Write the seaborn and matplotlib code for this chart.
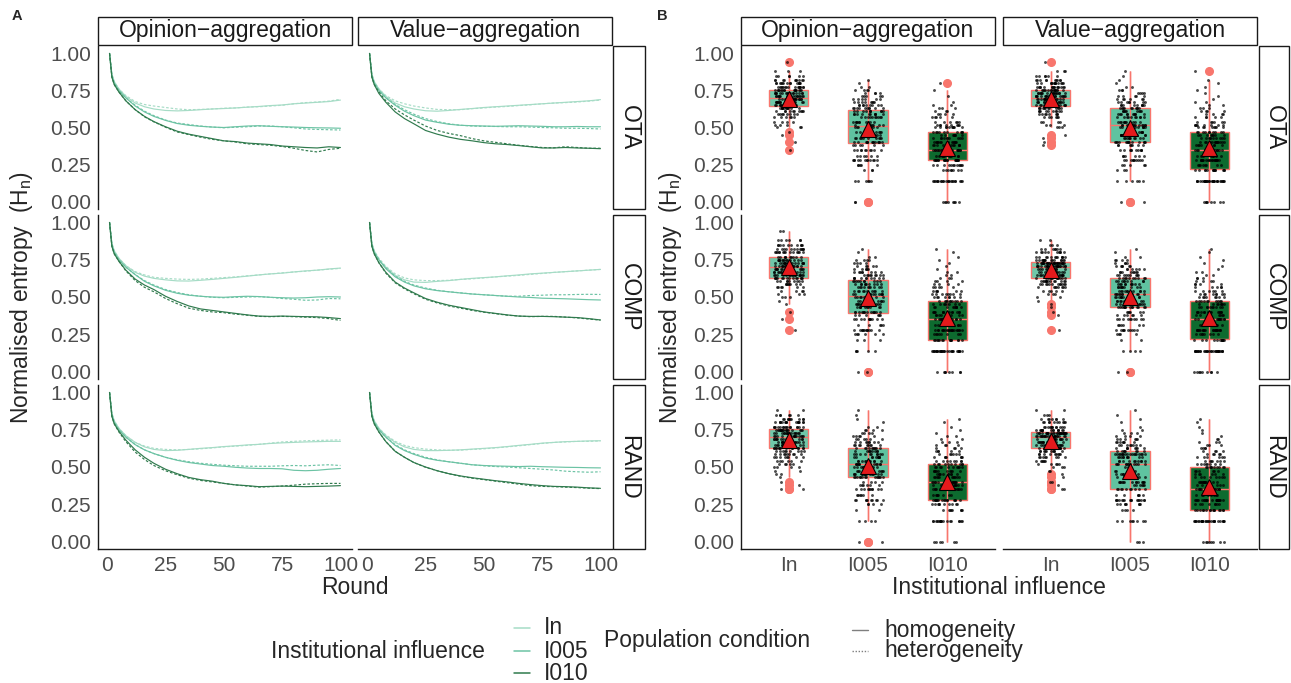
import numpy as np
import pandas as pd
import matplotlib
matplotlib.use("Agg")
import matplotlib.pyplot as plt
import seaborn as sns
from matplotlib.patches import Rectangle
from matplotlib.lines import Line2D

# ---------------- DATA ----------------
influences = ["In", "I005", "I010"]
conditions = ["homogeneity", "heterogeneity"]
distributions = ["OTA", "COMP", "RAND"]
aggregations = ["Opinion\u2212aggregation", "Value\u2212aggregation"]

ROUNDS = [1, 2, 3, 5, 8, 12, 16, 20, 25, 30, 35, 40, 45, 50, 55, 60, 65, 70, 75, 80, 85, 90, 95, 100]

ota_opinion = {
    "In_hom":   [1.00,0.86,0.81,0.76,0.71,0.665,0.64,0.625,0.615,0.612,0.615,0.62,0.625,0.628,0.632,0.637,0.642,0.648,0.652,0.66,0.665,0.67,0.675,0.685],
    "In_het":   [1.00,0.86,0.81,0.76,0.715,0.675,0.655,0.645,0.635,0.625,0.62,0.622,0.625,0.63,0.632,0.638,0.64,0.645,0.65,0.66,0.668,0.672,0.678,0.69],
    "I005_hom": [1.00,0.85,0.80,0.75,0.70,0.645,0.605,0.575,0.548,0.527,0.515,0.508,0.503,0.50,0.505,0.51,0.512,0.508,0.505,0.503,0.50,0.498,0.497,0.495],
    "I005_het": [1.00,0.85,0.80,0.75,0.70,0.65,0.61,0.58,0.55,0.53,0.52,0.51,0.503,0.498,0.502,0.505,0.51,0.51,0.505,0.498,0.49,0.487,0.485,0.483],
    "I010_hom": [1.00,0.84,0.79,0.74,0.68,0.62,0.575,0.54,0.505,0.475,0.455,0.44,0.425,0.41,0.405,0.395,0.39,0.385,0.375,0.37,0.365,0.362,0.37,0.365],
    "I010_het": [1.00,0.84,0.79,0.74,0.68,0.62,0.572,0.538,0.502,0.47,0.452,0.435,0.42,0.41,0.402,0.39,0.385,0.38,0.372,0.36,0.345,0.335,0.352,0.36],
}
ota_value = {
    "In_hom":   [1.00,0.86,0.81,0.76,0.71,0.665,0.64,0.625,0.613,0.61,0.615,0.622,0.628,0.635,0.64,0.645,0.65,0.655,0.66,0.665,0.67,0.675,0.68,0.688],
    "In_het":   [1.00,0.86,0.81,0.76,0.715,0.68,0.66,0.645,0.632,0.622,0.62,0.62,0.627,0.632,0.638,0.642,0.648,0.653,0.66,0.665,0.668,0.672,0.678,0.685],
    "I005_hom": [1.00,0.85,0.80,0.75,0.70,0.65,0.61,0.58,0.55,0.535,0.522,0.515,0.512,0.51,0.508,0.51,0.512,0.51,0.508,0.505,0.505,0.507,0.505,0.505],
    "I005_het": [1.00,0.85,0.80,0.75,0.70,0.655,0.62,0.59,0.56,0.54,0.525,0.515,0.51,0.508,0.507,0.505,0.505,0.503,0.50,0.498,0.495,0.495,0.493,0.49],
    "I010_hom": [1.00,0.84,0.79,0.73,0.67,0.605,0.56,0.525,0.48,0.455,0.435,0.42,0.41,0.398,0.39,0.385,0.378,0.37,0.362,0.362,0.365,0.362,0.36,0.357],
    "I010_het": [1.00,0.84,0.79,0.74,0.68,0.625,0.585,0.55,0.51,0.48,0.46,0.445,0.425,0.41,0.40,0.39,0.38,0.372,0.365,0.363,0.37,0.365,0.36,0.36],
}
comp_opinion = {
    "In_hom":   [1.00,0.86,0.81,0.76,0.71,0.665,0.64,0.625,0.615,0.608,0.607,0.612,0.618,0.625,0.632,0.64,0.648,0.655,0.66,0.668,0.675,0.68,0.688,0.694],
    "In_het":   [1.00,0.86,0.81,0.76,0.71,0.67,0.648,0.632,0.625,0.62,0.618,0.62,0.625,0.63,0.635,0.642,0.648,0.655,0.662,0.668,0.673,0.68,0.686,0.692],
    "I005_hom": [1.00,0.85,0.80,0.75,0.70,0.65,0.605,0.575,0.545,0.525,0.512,0.505,0.50,0.498,0.502,0.505,0.503,0.498,0.495,0.493,0.495,0.50,0.502,0.50],
    "I005_het": [1.00,0.85,0.80,0.75,0.70,0.65,0.61,0.58,0.55,0.53,0.515,0.505,0.498,0.495,0.498,0.50,0.502,0.498,0.49,0.485,0.478,0.48,0.49,0.488],
    "I010_hom": [1.00,0.84,0.79,0.74,0.68,0.62,0.58,0.55,0.505,0.47,0.44,0.42,0.41,0.40,0.39,0.38,0.372,0.37,0.372,0.37,0.368,0.367,0.362,0.355],
    "I010_het": [1.00,0.84,0.79,0.74,0.675,0.61,0.565,0.535,0.49,0.455,0.425,0.41,0.40,0.395,0.385,0.378,0.37,0.368,0.37,0.368,0.365,0.362,0.355,0.343],
}
comp_value = {
    "In_hom":   [1.00,0.86,0.81,0.75,0.70,0.645,0.615,0.60,0.598,0.605,0.61,0.618,0.625,0.63,0.635,0.642,0.648,0.655,0.66,0.665,0.67,0.675,0.68,0.685],
    "In_het":   [1.00,0.86,0.81,0.76,0.705,0.655,0.628,0.615,0.61,0.61,0.612,0.618,0.622,0.628,0.635,0.64,0.645,0.652,0.658,0.665,0.67,0.675,0.68,0.685],
    "I005_hom": [1.00,0.85,0.80,0.75,0.69,0.635,0.60,0.575,0.555,0.543,0.535,0.527,0.52,0.515,0.51,0.505,0.50,0.497,0.492,0.49,0.488,0.485,0.482,0.48],
    "I005_het": [1.00,0.85,0.80,0.75,0.695,0.64,0.605,0.58,0.56,0.545,0.535,0.528,0.52,0.515,0.51,0.505,0.505,0.51,0.512,0.515,0.515,0.517,0.518,0.517],
    "I010_hom": [1.00,0.84,0.79,0.73,0.665,0.60,0.56,0.528,0.49,0.465,0.445,0.43,0.415,0.40,0.39,0.38,0.372,0.37,0.37,0.368,0.365,0.362,0.355,0.346],
    "I010_het": [1.00,0.84,0.79,0.73,0.66,0.595,0.555,0.522,0.485,0.46,0.44,0.425,0.41,0.398,0.388,0.378,0.372,0.368,0.37,0.37,0.365,0.36,0.352,0.345],
}
rand_opinion = {
    "In_hom":   [1.00,0.86,0.81,0.76,0.71,0.665,0.635,0.618,0.61,0.612,0.618,0.625,0.63,0.637,0.642,0.648,0.652,0.658,0.662,0.665,0.668,0.67,0.672,0.672],
    "In_het":   [1.00,0.86,0.81,0.76,0.71,0.665,0.64,0.625,0.618,0.615,0.618,0.622,0.628,0.635,0.64,0.645,0.652,0.66,0.668,0.672,0.676,0.678,0.68,0.682],
    "I005_hom": [1.00,0.85,0.80,0.75,0.70,0.65,0.615,0.59,0.565,0.545,0.53,0.52,0.51,0.505,0.498,0.493,0.49,0.49,0.488,0.478,0.475,0.478,0.485,0.49],
    "I005_het": [1.00,0.85,0.80,0.75,0.70,0.65,0.615,0.59,0.565,0.548,0.535,0.525,0.518,0.512,0.508,0.505,0.505,0.505,0.508,0.51,0.508,0.512,0.515,0.51],
    "I010_hom": [1.00,0.84,0.79,0.74,0.68,0.615,0.565,0.525,0.485,0.455,0.43,0.415,0.405,0.39,0.38,0.375,0.368,0.37,0.372,0.37,0.368,0.37,0.372,0.375],
    "I010_het": [1.00,0.84,0.79,0.735,0.67,0.60,0.55,0.51,0.475,0.448,0.425,0.41,0.40,0.39,0.38,0.372,0.365,0.368,0.372,0.378,0.385,0.388,0.39,0.39],
}
rand_value = {
    "In_hom":   [1.00,0.86,0.81,0.76,0.71,0.665,0.635,0.618,0.61,0.61,0.612,0.615,0.62,0.625,0.63,0.637,0.645,0.652,0.66,0.665,0.67,0.672,0.675,0.676],
    "In_het":   [1.00,0.86,0.81,0.76,0.715,0.672,0.645,0.63,0.62,0.615,0.612,0.613,0.618,0.622,0.628,0.635,0.642,0.65,0.658,0.665,0.668,0.672,0.672,0.675],
    "I005_hom": [1.00,0.85,0.80,0.75,0.70,0.645,0.61,0.585,0.56,0.545,0.535,0.525,0.515,0.51,0.507,0.505,0.503,0.505,0.502,0.50,0.498,0.497,0.495,0.494],
    "I005_het": [1.00,0.85,0.80,0.75,0.70,0.65,0.615,0.59,0.565,0.548,0.535,0.525,0.515,0.508,0.503,0.50,0.495,0.49,0.485,0.48,0.472,0.468,0.465,0.468],
    "I010_hom": [1.00,0.84,0.79,0.735,0.67,0.605,0.565,0.53,0.50,0.475,0.455,0.44,0.428,0.418,0.408,0.40,0.39,0.382,0.375,0.37,0.368,0.365,0.36,0.357],
    "I010_het": [1.00,0.84,0.79,0.735,0.67,0.605,0.565,0.53,0.498,0.475,0.455,0.438,0.425,0.415,0.405,0.395,0.385,0.375,0.37,0.368,0.365,0.362,0.358,0.355],
}

# Panel B: discrete entropy levels and how many runs fall on each level
LEVELS = [0.00, 0.14, 0.21, 0.25, 0.28, 0.31, 0.35, 0.38, 0.40, 0.43, 0.45, 0.47, 0.50, 0.52, 0.54, 0.57,
          0.59, 0.61, 0.63, 0.65, 0.67, 0.69, 0.71, 0.73, 0.75, 0.77, 0.80, 0.82, 0.85, 0.88, 0.94]

counts_ota_opinion = {
    "In":   [0,0,0,0,0,0,1,0,1,0,1,1,3,3,4,6,8,10,12,18,16,16,18,16,16,16,14,10,6,3,1],
    "I005": [2,6,3,5,12,6,10,6,14,10,10,8,8,10,10,10,10,10,10,9,8,6,5,4,4,2,1,1,0,0,0],
    "I010": [8,22,8,12,20,10,24,10,14,10,8,10,10,8,6,5,4,3,3,2,1,0,1,0,1,0,1,0,0,0,0],
}
counts_ota_value = {
    "In":   [0,0,0,0,0,0,0,1,1,1,1,0,3,3,4,6,8,10,12,18,16,16,18,16,16,16,14,10,6,3,1],
    "I005": [2,6,3,5,10,6,10,7,14,10,10,8,8,12,10,10,10,9,10,9,8,6,5,4,3,2,1,1,1,1,0],
    "I010": [8,30,14,8,22,8,16,8,14,10,8,10,8,8,6,5,4,4,3,2,2,1,1,1,1,1,1,1,0,1,0],
}
counts_comp_opinion = {
    "In":   [0,0,0,0,1,0,1,0,1,0,1,1,3,3,4,6,8,9,14,16,16,16,16,16,14,10,14,12,10,6,2],
    "I005": [2,5,3,6,12,5,11,6,14,10,10,8,8,10,10,10,10,10,10,9,8,6,5,4,4,2,1,1,0,0,0],
    "I010": [8,30,14,8,22,8,16,8,14,10,8,10,8,8,6,5,4,4,3,2,2,1,1,1,1,1,1,1,0,0,0],
}
counts_comp_value = {
    "In":   [0,0,0,0,1,0,0,1,1,1,1,1,2,3,5,8,12,14,12,14,12,12,22,28,16,12,10,7,3,2,0],
    "I005": [2,4,2,4,10,6,10,6,6,14,14,10,11,12,10,10,10,9,10,9,8,6,6,4,4,2,1,1,0,0,0],
    "I010": [9,30,13,8,22,9,15,9,14,10,8,10,8,8,6,5,4,4,3,2,2,1,1,1,1,1,1,1,0,0,0],
}
counts_rand_opinion = {
    "In":   [0,0,0,0,0,0,2,1,1,1,2,2,4,5,6,8,9,9,14,12,12,12,16,16,18,16,16,10,6,2,0],
    "I005": [2,4,2,4,10,6,10,6,4,14,14,10,11,12,10,10,10,9,10,9,8,6,5,4,4,2,1,1,1,1,0],
    "I010": [6,18,8,10,16,8,14,10,14,12,10,10,10,10,8,7,6,5,4,4,3,2,2,1,1,1,1,1,0,0,0],
}
counts_rand_value = {
    "In":   [0,0,0,0,0,0,2,1,2,1,1,2,3,5,6,8,9,10,14,12,12,12,22,28,16,12,10,7,3,2,0],
    "I005": [3,8,4,8,16,6,10,6,14,8,8,6,3,12,10,10,18,8,8,8,7,6,4,3,2,1,1,1,1,1,0],
    "I010": [8,28,15,8,24,8,14,6,12,8,6,6,10,8,7,6,5,4,4,3,3,2,1,1,1,1,1,1,0,0,0],
}

line_facets = [[ota_opinion, ota_value], [comp_opinion, comp_value], [rand_opinion, rand_value]]
box_facets = [[counts_ota_opinion, counts_ota_value],
              [counts_comp_opinion, counts_comp_value],
              [counts_rand_opinion, counts_rand_value]]

# ---------------- STYLE ----------------
sns.set_theme(style="white")
plt.rcParams["font.family"] = ["Liberation Sans", "DejaVu Sans"]

line_colors = {"In": "#a6dcc6", "I005": "#6cc3a4", "I010": "#2f7a4d"}
box_fill = {"In": "#6fc8a9", "I005": "#5fc3a0", "I010": "#0d6b2f"}
BOX_LINE = "#F8766D"
TICK_LBL = "#4D4D4D"

W, H = 1291, 683
fig = plt.figure(figsize=(W / 100, H / 100), dpi=100)
fig.patch.set_facecolor("white")


def ax_at(x0, y0, x1, y1):
    return fig.add_axes([x0 / W, 1 - y1 / H, (x1 - x0) / W, (y1 - y0) / H])


def strip(x0, y0, x1, y1, text, rot=0):
    fig.patches.append(Rectangle((x0 / W, 1 - y1 / H), (x1 - x0) / W, (y1 - y0) / H,
                                 transform=fig.transFigure, facecolor="white",
                                 edgecolor="#1a1a1a", lw=1.0, zorder=1))
    fig.text((x0 + x1) / 2 / W, 1 - (y0 + y1) / 2 / H, text, rotation=rot,
             ha="center", va="center", fontsize=16.5, color="#1a1a1a", zorder=2)


rows_px = [(46, 209), (215, 379), (385, 549)]
colsA = [(98, 352), (358, 612)]
colsB = [(741, 995), (1003, 1257)]
right_stripA = (613, 645)
right_stripB = (1259, 1289)
top_strip = (17, 45)

yticks = [0.0, 0.25, 0.5, 0.75, 1.0]
ytlabels = ["0.00", "0.25", "0.50", "0.75", "1.00"]


def style_axes(ax, left, bottom):
    for s in ["top", "right"]:
        ax.spines[s].set_visible(False)
    ax.spines["left"].set_visible(left)
    ax.spines["bottom"].set_visible(bottom)
    for s in ["left", "bottom"]:
        ax.spines[s].set_color("#1a1a1a")
        ax.spines[s].set_linewidth(1.0)
    ax.set_facecolor("white")
    ax.grid(False)
    ax.set_ylim(-0.05, 1.05)
    ax.set_yticks(yticks)
    ax.tick_params(axis="both", which="both", direction="out", length=3.5, width=0.8,
                   color="#333333", labelsize=15, labelcolor=TICK_LBL, pad=1.5)
    if left:
        ax.set_yticklabels(ytlabels)
    else:
        ax.tick_params(axis="y", left=False, labelleft=False)
    if not bottom:
        ax.tick_params(axis="x", bottom=False, labelbottom=False)
    ax.set_xlabel("")
    ax.set_ylabel("")


# ---------------- PANEL A ----------------
for i, (r0, r1) in enumerate(rows_px):
    for j, (c0, c1) in enumerate(colsA):
        ax = ax_at(c0, r0, c1, r1)
        facet = line_facets[i][j]
        recs = []
        for inf in influences:
            for cond, key in zip(conditions, ["hom", "het"]):
                for r, v in zip(ROUNDS, facet[f"{inf}_{key}"]):
                    recs.append((r, v, inf, cond))
        df = pd.DataFrame(recs, columns=["Round", "H", "inf", "cond"])
        sns.lineplot(data=df, x="Round", y="H", hue="inf", hue_order=influences,
                     style="cond", style_order=conditions, palette=line_colors,
                     dashes={"homogeneity": "", "heterogeneity": (2.2, 1.6)},
                     linewidth=0.85, legend=False, ax=ax, estimator=None, sort=False)
        ax.set_xlim(-3.95, 104.95)
        ax.set_xticks([0, 25, 50, 75, 100])
        style_axes(ax, left=(j == 0), bottom=(i == 2))
        if i == 2:
            ax.set_xticklabels(["0", "25", "50", "75", "100"])

# ---------------- PANEL B ----------------
np.random.seed(3)
for i, (r0, r1) in enumerate(rows_px):
    for j, (c0, c1) in enumerate(colsB):
        ax = ax_at(c0, r0, c1, r1)
        counts = box_facets[i][j]
        recs = []
        for inf in influences:
            vals = np.repeat(LEVELS, counts[inf])
            recs += [(inf, v) for v in vals]
        df = pd.DataFrame(recs, columns=["inf", "val"])
        sns.boxplot(data=df, x="inf", y="val", order=influences, hue="inf",
                    hue_order=influences, palette=box_fill, saturation=1, width=0.5,
                    linecolor=BOX_LINE, linewidth=1.0, showcaps=False, showmeans=True,
                    legend=False,
                    flierprops=dict(marker="o", markerfacecolor=BOX_LINE,
                                    markeredgecolor=BOX_LINE, markersize=5.5),
                    meanprops=dict(marker="^", markerfacecolor="#E41A1C",
                                   markeredgecolor="black", markeredgewidth=0.8,
                                   markersize=11, zorder=6),
                    ax=ax)
        # whisker range line drawn through the box (as in the original figure)
        for k, inf in enumerate(influences):
            v = df.loc[df["inf"] == inf, "val"].to_numpy()
            q1, q3 = np.percentile(v, [25, 75])
            iqr = q3 - q1
            lo = v[v >= q1 - 1.5 * iqr].min()
            hi = v[v <= q3 + 1.5 * iqr].max()
            ax.plot([k, k], [lo, hi], color=BOX_LINE, lw=1.0, zorder=2.05,
                    solid_capstyle="butt")
        sns.stripplot(data=df, x="inf", y="val", order=influences, color="black",
                      size=2.1, alpha=0.7, jitter=0.19, linewidth=0, ax=ax, zorder=4)
        ax.set_xlim(-0.6, 2.6)
        style_axes(ax, left=(j == 0), bottom=(i == 2))

# ---------------- STRIPS ----------------
for (c0, c1), lab in zip(colsA, aggregations):
    strip(c0, top_strip[0], c1, top_strip[1], lab)
for (c0, c1), lab in zip(colsB, aggregations):
    strip(c0, top_strip[0], c1, top_strip[1], lab)
for (r0, r1), lab in zip(rows_px, distributions):
    strip(right_stripA[0], r0, right_stripA[1], r1, lab, rot=270)
    strip(right_stripB[0], r0, right_stripB[1], r1, lab, rot=270)

# ---------------- TITLES / LABELS ----------------
fig.text(12 / W, 1 - 16 / H, "A", fontsize=10.5, fontweight="bold", ha="left", va="center")
fig.text(657 / W, 1 - 16 / H, "B", fontsize=10.5, fontweight="bold", ha="left", va="center")

ylab = r"Normalised entropy  (H$_\mathregular{n}$)"
fig.text(22 / W, 1 - 297 / H, ylab, rotation=90, ha="center", va="center", fontsize=16.5)
fig.text(671 / W, 1 - 297 / H, ylab, rotation=90, ha="center", va="center", fontsize=16.5)
fig.text(355 / W, 1 - 588 / H, "Round", ha="center", va="center", fontsize=16.5)
fig.text(999 / W, 1 - 588 / H, "Institutional influence", ha="center", va="center", fontsize=16.5)

# ---------------- LEGEND ----------------
fig.text(271 / W, 1 - 651 / H, "Institutional influence", ha="left", va="center", fontsize=16.5)
for inf, yy in zip(influences, [628, 651, 673]):
    fig.add_artist(Line2D([514 / W, 530 / W], [1 - yy / H, 1 - yy / H],
                          transform=fig.transFigure, color=line_colors[inf], lw=1.1))
    fig.text(544 / W, 1 - yy / H, inf, ha="left", va="center", fontsize=16.5)

fig.text(604 / W, 1 - 641 / H, "Population condition", ha="left", va="center", fontsize=16.5)
for cond, yy, ls in zip(conditions, [630, 651], ["-", (0, (1.0, 1.2))]):
    fig.add_artist(Line2D([852 / W, 868 / W], [1 - yy / H, 1 - yy / H],
                          transform=fig.transFigure, color="#7f7f7f", lw=1.0, linestyle=ls))
    fig.text(884 / W, 1 - yy / H, cond, ha="left", va="center", fontsize=16.5)

fig.savefig("out.png", dpi=100, facecolor="white")
